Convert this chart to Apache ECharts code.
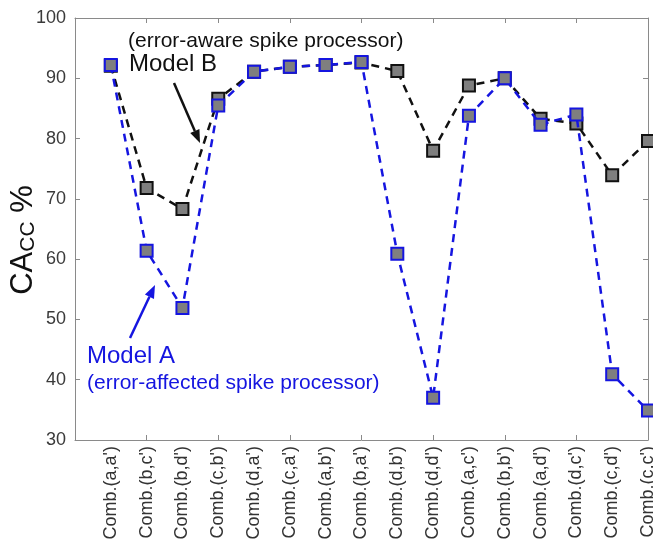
<!DOCTYPE html>
<html>
<head>
<meta charset="utf-8">
<script src="https://cdn.jsdelivr.net/npm/echarts@6/dist/echarts.min.js"></script>
<style>
  html, body { margin: 0; padding: 0; background: #fff; }
  #chart { width: 653px; height: 542px; }
</style>
</head>
<body>
<div id="chart"></div>
<script>
const categories = ["Comb.(a,a')", "Comb.(b,c')", "Comb.(b,d')", "Comb.(c,b')", "Comb.(d,a')", "Comb.(c,a')",
  "Comb.(a,b')", "Comb.(b,a')", "Comb.(d,b')", "Comb.(d,d')", "Comb.(a,c')", "Comb.(b,b')",
  "Comb.(a,d')", "Comb.(d,c')", "Comb.(c,d')", "Comb.(c,c')"];
// Model B: error-aware spike processor
const modelB = [92.1, 71.8, 68.3, 86.6, 91.1, 91.9, 92.2, 92.6, 91.2, 78.0, 88.8, 90.0, 83.3, 82.5, 73.9, 79.6];
// Model A: error-affected spike processor
const modelA = [92.2, 61.4, 51.9, 85.5, 91.1, 91.9, 92.2, 92.7, 60.9, 37.0, 83.8, 90.0, 82.3, 84.0, 40.9, 34.9];
const yTicks = [30, 100, 10];

const font = 'Liberation Sans, Arial, sans-serif';
const axisGrey = '#8a8a8a';
const blue = '#1515e0';

// first slot is empty so the curves start one step in from the box edge
const xData = [''].concat(categories);
const toPairs = vals => categories.map((c, i) => [c, vals[i]]);

const chart = echarts.init(document.getElementById('chart'));

function arrow(x1, y1, x2, y2, color) {
  const a = Math.atan2(y2 - y1, x2 - x1);
  const L = 13, W = 5;
  const bx = x2 - L * Math.cos(a), by = y2 - L * Math.sin(a);
  const px = -Math.sin(a) * W, py = Math.cos(a) * W;
  return [
    { type: 'line', shape: { x1: x1, y1: y1, x2: bx, y2: by }, style: { stroke: color, lineWidth: 2.5 }, z: 20 },
    { type: 'polygon', shape: { points: [[x2, y2], [bx + px, by + py], [bx - px, by - py]] }, style: { fill: color }, z: 20 }
  ];
}

function label(text, x, y, size, color) {
  return { type: 'text', x: x, y: y, z: 20,
    style: { text: text, fontFamily: font, fontSize: size, fill: color, verticalAlign: 'middle', align: 'left' } };
}

const tickInterval = i => i % 2 === 0;

const option = {
  animation: false,
  backgroundColor: '#fff',
  grid: { left: 75, right: 5, top: 18, bottom: 102, containLabel: false, outerBoundsMode: 'none' },
  xAxis: [
    {
      type: 'category',
      data: xData,
      boundaryGap: false,
      axisLine: { lineStyle: { color: axisGrey, width: 1 } },
      axisTick: { inside: true, length: 5, interval: tickInterval, lineStyle: { color: axisGrey } },
      axisLabel: { interval: 0, rotate: 90, fontFamily: font, fontSize: 18, color: '#333', margin: 6 },
      splitLine: { show: false }
    },
    {
      type: 'category',
      data: xData,
      position: 'top',
      boundaryGap: false,
      axisLine: { lineStyle: { color: axisGrey, width: 1 } },
      axisTick: { inside: true, length: 5, interval: tickInterval, lineStyle: { color: axisGrey } },
      axisLabel: { show: false },
      splitLine: { show: false }
    }
  ],
  yAxis: [
    {
      type: 'value',
      min: yTicks[0], max: yTicks[1], interval: yTicks[2],
      name: '{a|CA}{b|CC}{a| %}',
      nameLocation: 'middle',
      nameGap: 36,
      nameMoveOverlap: false,
      nameRotate: 90,
      nameTextStyle: {
        padding: [0, 22, 0, 0],
        rich: {
          a: { fontFamily: font, fontSize: 31, color: '#111' },
          b: { fontFamily: font, fontSize: 21, color: '#111', padding: [10, 0, 0, 0] }
        }
      },
      axisLine: { show: true, lineStyle: { color: axisGrey, width: 1 } },
      axisTick: { show: true, inside: true, length: 5, lineStyle: { color: axisGrey } },
      axisLabel: { fontFamily: font, fontSize: 18, color: '#3a3a3a', margin: 9 },
      splitLine: { show: false }
    },
    {
      type: 'value',
      position: 'right',
      min: yTicks[0], max: yTicks[1], interval: yTicks[2],
      axisLine: { show: true, lineStyle: { color: axisGrey, width: 1 } },
      axisTick: { show: true, inside: true, length: 5, lineStyle: { color: axisGrey } },
      axisLabel: { show: false },
      splitLine: { show: false }
    }
  ],
  series: [
    {
      name: 'Model B',
      type: 'line',
      data: toPairs(modelB),
      symbol: 'rect',
      symbolSize: 12,
      lineStyle: { color: '#111', width: 2.5, type: [8, 6] },
      itemStyle: { color: '#7f7f7f', borderColor: '#111', borderWidth: 2 },
      z: 3
    },
    {
      name: 'Model A',
      type: 'line',
      data: toPairs(modelA),
      symbol: 'rect',
      symbolSize: 12,
      lineStyle: { color: blue, width: 2.5, type: [8, 6] },
      itemStyle: { color: '#7f7f7f', borderColor: blue, borderWidth: 2 },
      z: 4
    }
  ],
  graphic: [
    label('(error-aware spike processor)', 128, 41, 21, '#111'),
    label('Model B', 129, 64, 24, '#111'),
    label('Model A', 87, 356, 24, blue),
    label('(error-affected spike processor)', 87, 383, 21, blue)
  ].concat(arrow(174, 83, 200, 143, '#111'), arrow(130, 338, 155, 285, blue))
};

chart.setOption(option);
</script>
</body>
</html>
